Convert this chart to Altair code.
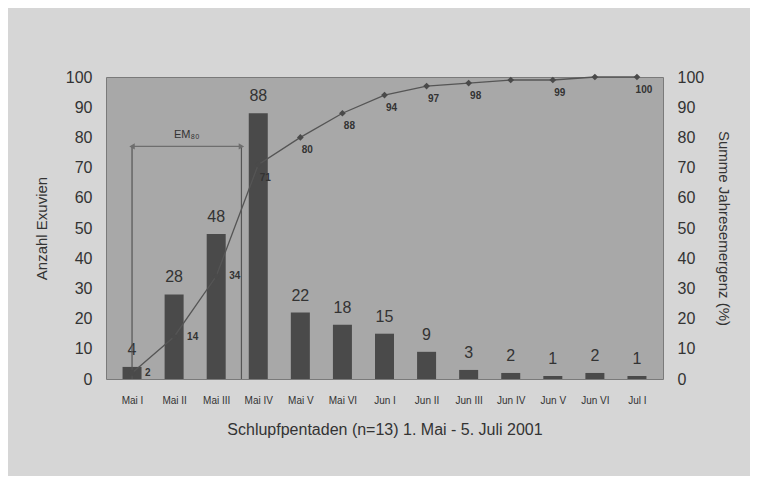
import json
import altair as alt
import pandas as pd

# ---- data ----
pentaden = ["Mai I", "Mai II", "Mai III", "Mai IV", "Mai V", "Mai VI",
            "Jun I", "Jun II", "Jun III", "Jun IV", "Jun V", "Jun VI", "Jul I"]
anzahl = [4, 28, 48, 88, 22, 18, 15, 9, 3, 2, 1, 2, 1]
summe = [2, 14, 34, 71, 80, 88, 94, 97, 98, 99, 99, 100, 100]
summe_labels = ["2", "14", "34", "71", "80", "88", "94", "97", "98", "", "99", "", "100"]

# EM80 annotation (x in pentade index units, y in left-axis units)
em_von = 0
em_bis = 2.6
em_hoehe = 77
em_text = "EM₈₀"

FONT = "Liberation Sans"
TXT = "#333333"
BAR = "#4a4a4a"

df = pd.DataFrame({
    "i": list(range(len(pentaden))),
    "p": pentaden,
    "n": anzahl,
    "s": summe,
    "sl": summe_labels,
})

label_expr = "%s[datum.value]" % json.dumps(pentaden)
xscale = alt.Scale(domain=[-0.5, len(pentaden) - 0.5], nice=False, zero=False)
yscale = alt.Scale(domain=[0, 100], nice=False)

x_axis_def = alt.Axis(
    title="Schlupfpentaden (n=13) 1. Mai - 5. Juli 2001",
    values=list(range(len(pentaden))), labelExpr=label_expr,
    ticks=False, domain=False, grid=False, labelFontSize=10, labelPadding=16,
    titleFontSize=16, titlePadding=16, labelColor=TXT, titleColor=TXT,
    titleFontWeight="normal", labelFont=FONT, titleFont=FONT)


def X(field):
    return alt.X(field, scale=xscale, axis=x_axis_def)


base = alt.Chart(df)

bars = base.mark_bar(width=19, color=BAR).encode(
    x=X("i:Q"),
    y=alt.Y("n:Q", scale=yscale, axis=alt.Axis(
        title="Anzahl Exuvien", values=list(range(0, 101, 10)), orient="left",
        ticks=False, domain=False, grid=False, labelFontSize=16, labelPadding=14,
        titleFontSize=15, titlePadding=16, labelColor=TXT, titleColor=TXT,
        titleFontWeight="normal", labelFont=FONT, titleFont=FONT)),
)

bar_text = base.mark_text(fontSize=16, dy=-12, baseline="alphabetic", color=TXT, font=FONT).encode(
    x=X("i:Q"),
    y=alt.Y("n:Q", scale=yscale, axis=None),
    text="n:Q",
)

line = base.mark_line(color="#555555", strokeWidth=1.3).encode(
    x=X("i:Q"),
    y=alt.Y("s:Q", scale=yscale, axis=alt.Axis(
        title="Summe Jahresemergenz (%)", values=list(range(0, 101, 10)), orient="right",
        ticks=False, domain=False, grid=False, labelFontSize=16, labelPadding=14,
        titleFontSize=15, titlePadding=12, labelColor=TXT, titleColor=TXT,
        titleFontWeight="normal", labelFont=FONT, titleFont=FONT)),
)

pts = base.mark_point(shape="diamond", filled=True, size=45, color="#4a4a4a", opacity=1).encode(
    x=X("i:Q"),
    y=alt.Y("s:Q", scale=yscale, axis=None),
)

cum_first = base.transform_filter("datum.i < 3").mark_text(
    fontSize=10, fontWeight="bold", align="left", baseline="middle", dx=13, dy=0,
    color=TXT, font=FONT).encode(
    x=X("i:Q"), y=alt.Y("s:Q", scale=yscale, axis=None), text="sl:N")

cum_rest = base.transform_filter("datum.i >= 3").mark_text(
    fontSize=10, fontWeight="bold", align="center", baseline="middle", dx=7, dy=13,
    color=TXT, font=FONT).encode(
    x=X("i:Q"), y=alt.Y("s:Q", scale=yscale, axis=None), text="sl:N")

em_df = pd.DataFrame({"x": [em_von, em_bis], "y": [em_hoehe, em_hoehe], "y0": [0, 0],
                      "shape": ["triangle-left", "triangle-right"]})
em_vert = alt.Chart(em_df).mark_rule(color="#555555", strokeWidth=1.2).encode(
    x=X("x:Q"),
    y=alt.Y("y:Q", scale=yscale, axis=None),
    y2="y0:Q",
)
em_h_df = pd.DataFrame({"x": [em_von], "x2": [em_bis], "y": [em_hoehe],
                        "t": [em_text], "xm": [(em_von + em_bis) / 2]})
em_horiz = alt.Chart(em_h_df).mark_rule(color="#6e6e6e", strokeWidth=1.2).encode(
    x=X("x:Q"),
    x2="x2:Q",
    y=alt.Y("y:Q", scale=yscale, axis=None),
)
em_arrows = alt.Chart(em_df).mark_point(filled=True, size=40, color="#6e6e6e", opacity=1).encode(
    x=X("x:Q"),
    y=alt.Y("y:Q", scale=yscale, axis=None),
    shape=alt.Shape("shape:N", scale=None),
)
em_label = alt.Chart(em_h_df).mark_text(fontSize=11, dy=-11, color=TXT, font=FONT).encode(
    x=X("xm:Q"),
    y=alt.Y("y:Q", scale=yscale, axis=None),
    text="t:N",
)

chart = alt.layer(
    bars, bar_text, em_vert, em_horiz, em_arrows, em_label, line, pts, cum_first, cum_rest
).resolve_scale(y="independent").properties(
    width=557, height=302,
    padding={"left": 98, "top": 69, "right": 87, "bottom": 97},
    autosize=alt.AutoSizeParams(type="none"),
    background="#d6d6d6",
).configure_view(fill="#a8a8a8", stroke="#7a7a7a", strokeWidth=1)

chart.save("out.html", embed_options={"renderer": "svg", "actions": False})
